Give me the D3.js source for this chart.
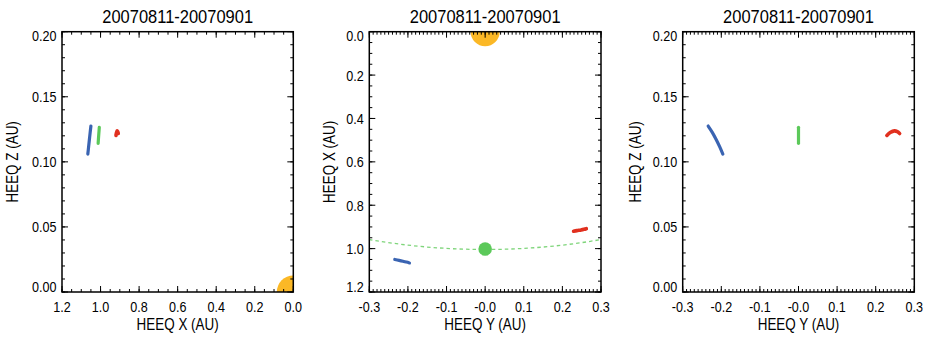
<!DOCTYPE html>
<html><head><meta charset="utf-8">
<script src="https://cdn.jsdelivr.net/npm/d3@7"></script>
<style>
body{margin:0;background:#fff}
text{font-family:"Liberation Sans",Arial,Helvetica,sans-serif;fill:#000}
</style>
</head><body>
<svg id="c" width="930" height="339"></svg>
<script>
// ---- data (HEEQ coordinates, AU), 2007-08-11 .. 2007-09-01 ----
const titleText = "20070811-20070901";
const behindX = [1.066, 1.062, 1.058, 1.054, 1.050];
const behindY = [-0.196, -0.204, -0.213, -0.223, -0.234];
const behindZ = [0.106, 0.1115, 0.117, 0.1225, 0.1275];
const earthX = [1.0125, 1.011, 1.0095, 1.008, 1.0065];
const earthY = [0.0, 0.0, 0.0, 0.0, 0.0];
const earthZ = [0.1142, 0.1175, 0.1205, 0.1235, 0.1265];
const aheadX = [0.920, 0.917, 0.914, 0.911, 0.908];
const aheadY = [0.229, 0.2375, 0.2485, 0.256, 0.262];
const aheadZ = [0.1203, 0.1225, 0.1238, 0.1232, 0.1218];
const sunPos = [0.0, 0.0];
const earthDotYX = [0.0, 1.002];
const earthOrbitR = 1.004;

const xTicksP1 = [1.2, 1.0, 0.8, 0.6, 0.4, 0.2, 0.0];
const xLabelsP1 = ["1.2", "1.0", "0.8", "0.6", "0.4", "0.2", "0.0"];
const zTicks = [0.00, 0.05, 0.10, 0.15, 0.20];
const zLabels = ["0.00", "0.05", "0.10", "0.15", "0.20"];
const yTicks = [-0.3, -0.2, -0.1, 0.0, 0.1, 0.2, 0.3];
const yLabels = ["-0.3", "-0.2", "-0.1", "-0.0", "0.1", "0.2", "0.3"];
const xTicksP2 = [0.0, 0.2, 0.4, 0.6, 0.8, 1.0, 1.2];
const xLabelsP2 = ["0.0", "0.2", "0.4", "0.6", "0.8", "1.0", "1.2"];

const colors = {behind: "#3a64b2", earth: "#5cc95a", ahead: "#e1301f", sun: "#fbb826", orbit: "#7fd57b"};

const svg = d3.select("#c");
const TOP = 31.7, BOT = 292;

function range(a, b, step) { const n = Math.round((b - a) / step); return d3.range(n + 1).map(i => a + i * step); }

function panel(cfg) {
  const x = d3.scaleLinear().domain(cfg.xDom).range([cfg.left, cfg.right]);
  const y = d3.scaleLinear().domain(cfg.yDom).range(cfg.yFlip ? [TOP, BOT] : [BOT, TOP]);
  const g = svg.append("g");
  const cid = "clip" + cfg.id;
  svg.append("clipPath").attr("id", cid).append("rect")
    .attr("x", cfg.left).attr("y", TOP).attr("width", cfg.right - cfg.left).attr("height", BOT - TOP);
  const pg = g.append("g").attr("clip-path", `url(#${cid})`);

  // sun
  pg.append("circle").attr("cx", x(sunPos[0])).attr("cy", y(sunPos[1])).attr("r", cfg.sunR).attr("fill", colors.sun);
  if (cfg.orbit) {
    pg.append("ellipse").attr("cx", x(0)).attr("cy", y(0))
      .attr("rx", Math.abs(x(earthOrbitR) - x(0))).attr("ry", Math.abs(y(earthOrbitR) - y(0)))
      .attr("fill", "none").attr("stroke", colors.orbit).attr("stroke-width", 1.3).attr("stroke-dasharray", "3.5,3");
  }
  const line = d3.line().x(d => x(d[0])).y(d => y(d[1])).curve(d3.curveCatmullRom);
  cfg.tracks.forEach(t => {
    const pts = t.a.map((v, i) => [v, t.b[i]]);
    pg.append("path").attr("d", line(pts)).attr("fill", "none").attr("stroke", t.c)
      .attr("stroke-width", t.w || 3.2).attr("stroke-linecap", "round").attr("stroke-linejoin", "round");
  });
  if (cfg.orbit) {
    pg.append("circle").attr("cx", x(earthDotYX[0])).attr("cy", y(earthDotYX[1])).attr("r", 6.8).attr("fill", colors.earth);
  }

  // ticks (inward, all four sides)
  const tk = g.append("g").attr("stroke", "#000").attr("stroke-width", 1);
  cfg.xMinor.forEach(v => {
    const px = x(v);
    tk.append("line").attr("x1", px).attr("x2", px).attr("y1", BOT).attr("y2", BOT - 3);
    tk.append("line").attr("x1", px).attr("x2", px).attr("y1", TOP).attr("y2", TOP + 3);
  });
  cfg.xTicks.forEach(v => {
    const px = x(v);
    tk.append("line").attr("x1", px).attr("x2", px).attr("y1", BOT).attr("y2", BOT - 6);
    tk.append("line").attr("x1", px).attr("x2", px).attr("y1", TOP).attr("y2", TOP + 6);
  });
  cfg.yMinor.forEach(v => {
    const py = y(v);
    tk.append("line").attr("x1", cfg.left).attr("x2", cfg.left + 3).attr("y1", py).attr("y2", py);
    tk.append("line").attr("x1", cfg.right).attr("x2", cfg.right - 3).attr("y1", py).attr("y2", py);
  });
  cfg.yTicks.forEach(v => {
    const py = y(v);
    tk.append("line").attr("x1", cfg.left).attr("x2", cfg.left + 6).attr("y1", py).attr("y2", py);
    tk.append("line").attr("x1", cfg.right).attr("x2", cfg.right - 6).attr("y1", py).attr("y2", py);
  });

  // frame
  g.append("rect").attr("x", cfg.left).attr("y", TOP).attr("width", cfg.right - cfg.left).attr("height", BOT - TOP)
    .attr("fill", "none").attr("stroke", "#000").attr("stroke-width", 1.5);

  // tick labels
  cfg.xTicks.forEach((v, i) => {
    g.append("text").attr("transform", `translate(${x(v)},311.7) scale(0.84,1)`)
      .attr("text-anchor", "middle").attr("font-size", 15).text(cfg.xLabels[i]);
  });
  const ys = cfg.yTicks.map(v => y(v));
  const topIdx = ys.indexOf(d3.min(ys)), botIdx = ys.indexOf(d3.max(ys));
  cfg.yTicks.forEach((v, i) => {
    let base = ys[i] + 5.5;
    if (i === topIdx) base = ys[i] + 9.5;
    if (i === botIdx) base = ys[i];
    g.append("text").attr("transform", `translate(${cfg.left - 5.5},${base}) scale(0.84,1)`)
      .attr("text-anchor", "end").attr("font-size", 15).text(cfg.yLabels[i]);
  });

  // axis titles
  const cx = (cfg.left + cfg.right) / 2;
  g.append("text").attr("transform", `translate(${cx},330) scale(0.84,1)`)
    .attr("text-anchor", "middle").attr("font-size", 16).text(cfg.xTitle);
  g.append("text").attr("transform", `translate(${cfg.yTitleX + 5.8},${(TOP + BOT) / 2}) rotate(-90) scale(0.84,1)`)
    .attr("text-anchor", "middle").attr("font-size", 16).text(cfg.yTitle);
  g.append("text").attr("transform", `translate(${cx},23.3) scale(0.915,1)`)
    .attr("text-anchor", "middle").attr("font-size", 18).text(titleText);
}

panel({
  id: 1, left: 62, right: 293.3, xDom: [1.2, 0.0], yDom: [0.0, 0.2], yFlip: false,
  xTicks: xTicksP1, xLabels: xLabelsP1, xMinor: range(0, 1.2, 0.05),
  yTicks: zTicks, yLabels: zLabels, yMinor: range(0, 0.2, 0.01),
  xTitle: "HEEQ X (AU)", yTitle: "HEEQ Z (AU)", yTitleX: 12, sunR: 16.5,
  tracks: [
    {a: behindX, b: behindZ, c: colors.behind},
    {a: earthX, b: earthZ, c: colors.earth},
    {a: aheadX, b: aheadZ, c: colors.ahead, w: 3.6}
  ]
});
panel({
  id: 2, left: 369.3, right: 601, xDom: [-0.3, 0.3], yDom: [0.0, 1.2], yFlip: true, orbit: true,
  xTicks: yTicks, xLabels: yLabels, xMinor: range(-0.3, 0.3, 0.01),
  yTicks: xTicksP2, yLabels: xLabelsP2, yMinor: range(0, 1.2, 0.05),
  xTitle: "HEEQ Y (AU)", yTitle: "HEEQ X (AU)", yTitleX: 329, sunR: 14.5,
  tracks: [
    {a: behindY, b: behindX, c: colors.behind},
    {a: earthY, b: earthX, c: colors.earth},
    {a: aheadY, b: aheadX, c: colors.ahead, w: 3.6}
  ]
});
panel({
  id: 3, left: 682.7, right: 914.3, xDom: [-0.3, 0.3], yDom: [0.0, 0.2], yFlip: false,
  xTicks: yTicks, xLabels: yLabels, xMinor: range(-0.3, 0.3, 0.01),
  yTicks: zTicks, yLabels: zLabels, yMinor: range(0, 0.2, 0.01),
  xTitle: "HEEQ Y (AU)", yTitle: "HEEQ Z (AU)", yTitleX: 635.5, sunR: 0,
  tracks: [
    {a: behindY, b: behindZ, c: colors.behind},
    {a: earthY, b: earthZ, c: colors.earth},
    {a: aheadY, b: aheadZ, c: colors.ahead, w: 3.6}
  ]
});
</script>
</body></html>
